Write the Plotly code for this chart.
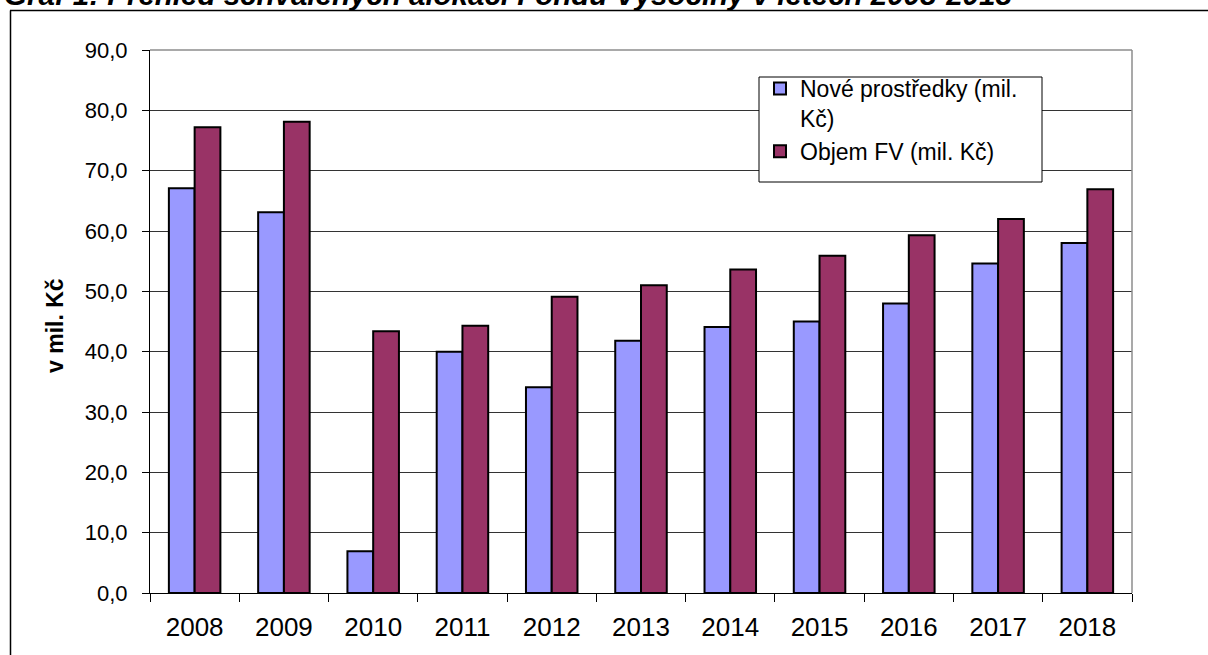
import plotly.graph_objects as go

years = ["2008", "2009", "2010", "2011", "2012", "2013", "2014", "2015", "2016", "2017", "2018"]
nove_prostredky = [67.1, 63.1, 6.9, 40.0, 34.1, 41.8, 44.1, 45.0, 48.0, 54.6, 58.0]
objem_fv = [77.2, 78.1, 43.4, 44.3, 49.1, 51.0, 53.6, 55.9, 59.3, 62.0, 66.9]
y_ticks = [0, 10, 20, 30, 40, 50, 60, 70, 80, 90]

W, H = 1208, 655
# plot area in page pixels
L, R, T, B = 150, 1132, 50, 593


def px(x):
    return (x - L) / (R - L)


def py(y):
    return (B - y) / (B - T)


FONT = "Liberation Sans, Arial, sans-serif"

fig = go.Figure()
fig.add_trace(go.Bar(
    x=years, y=nove_prostredky, name="Nové prostředky (mil.<br>Kč)",
    marker=dict(color="#9999FF", line=dict(color="black", width=2)),
))
fig.add_trace(go.Bar(
    x=years, y=objem_fv, name="Objem FV (mil. Kč)",
    marker=dict(color="#993366", line=dict(color="black", width=2)),
))

fig.update_layout(
    width=W, height=H,
    margin=dict(l=L, r=W - R, t=T, b=H - B, pad=0, autoexpand=False),
    paper_bgcolor="white", plot_bgcolor="white",
    separators=", ",
    barmode="group", bargap=0.423, bargroupgap=0,
    font=dict(family=FONT, color="black", size=24),
    showlegend=True,
    legend=dict(
        x=px(760), y=py(67), xanchor="left", yanchor="top",
        bgcolor="rgba(0,0,0,0)", borderwidth=0,
        font=dict(family=FONT, size=23, color="black"),
        valign="top", tracegroupgap=0, itemwidth=30,
    ),
    xaxis=dict(
        type="category", showgrid=False, showline=True, linecolor="black", linewidth=1,
        ticks="outside", tickson="boundaries", ticklen=8, tickcolor="black",
        tickfont=dict(family=FONT, size=26, color="black"), ticklabelstandoff=11,
        automargin=False,
    ),
    yaxis=dict(
        range=[0, 90], tickvals=y_ticks, tickformat=".1f",
        showgrid=True, gridcolor="#333333", gridwidth=1,
        showline=True, linecolor="black", linewidth=1,
        ticks="outside", ticklen=7, tickcolor="black",
        tickfont=dict(family=FONT, size=22, color="black"), ticklabelstandoff=10,
        zeroline=False, automargin=False,
    ),
    shapes=[
        # plot area border (top, right)
        dict(type="line", xref="paper", yref="paper", x0=0, x1=1, y0=1, y1=1,
             line=dict(color="#8c8c8c", width=1.5), layer="above"),
        dict(type="line", xref="paper", yref="paper", x0=1, x1=1, y0=0, y1=1,
             line=dict(color="#8c8c8c", width=1.5), layer="above"),
        # legend box
        dict(type="rect", xref="paper", yref="paper", x0=px(759), x1=px(1042), y0=py(182), y1=py(77),
             line=dict(color="black", width=1), fillcolor="white", layer="above"),
        # outer frame
        dict(type="line", xref="paper", yref="paper", x0=px(10), x1=px(1212), y0=py(10.5), y1=py(10.5),
             line=dict(color="black", width=1.5)),
        dict(type="line", xref="paper", yref="paper", x0=px(10.5), x1=px(10.5), y0=py(10.5), y1=py(665),
             line=dict(color="black", width=1.5)),
    ],
    annotations=[
        dict(text="v mil. Kč", xref="paper", yref="paper", x=px(55), y=py(326),
             textangle=-90, showarrow=False, xanchor="center", yanchor="middle",
             font=dict(family=FONT, size=23, color="black", weight="bold")),
        dict(text="<b><i>Graf 1: Přehled schválených alokací Fondu Vysočiny v letech 2008-2018</i></b>",
             xref="paper", yref="paper", x=px(2), y=py(-6), xanchor="left", yanchor="middle",
             showarrow=False, font=dict(family=FONT, size=29.5, color="black")),
    ],
)

fig.write_html(
    "out.html",
    config={"displayModeBar": False},
    post_script="document.body.style.margin='0';document.documentElement.style.overflow='hidden';",
)
